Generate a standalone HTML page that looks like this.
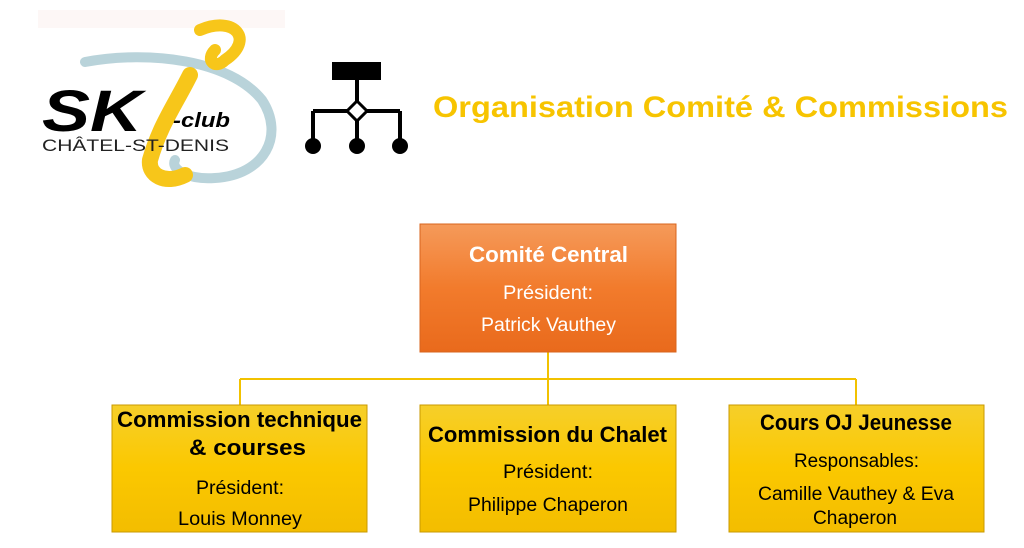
<!DOCTYPE html>
<html><head><meta charset="utf-8"><style>
html,body{margin:0;padding:0;background:#fff;width:1024px;height:548px;overflow:hidden}
svg{display:block}
text{font-family:"Liberation Sans",sans-serif}
</style></head><body>
<svg width="1024" height="548" viewBox="0 0 1024 548" xmlns="http://www.w3.org/2000/svg">
<defs>
<linearGradient id="og" x1="0" y1="0" x2="0" y2="1"><stop offset="0" stop-color="#f59a5a"/><stop offset="0.5" stop-color="#f27b2c"/><stop offset="1" stop-color="#e96a1c"/></linearGradient>
<linearGradient id="yg" x1="0" y1="0" x2="0" y2="1"><stop offset="0" stop-color="#f6cf2a"/><stop offset="0.5" stop-color="#fbc800"/><stop offset="1" stop-color="#f3bd00"/></linearGradient>
</defs>
<!-- logo -->
<rect x="38" y="10" width="247" height="18" fill="#fdf7f6"/>
<path d="M85 62 C150 50 230 60 262 100 C285 135 265 175 215 178 C190 180 170 170 175 160" fill="none" stroke="#b9d3da" stroke-width="10" stroke-linecap="round"/>
<path d="M200 30 C235 15 255 40 225 60 C215 70 205 60 215 50" fill="none" stroke="#f7c61a" stroke-width="12" stroke-linecap="round"/>
<path d="M190 75 C175 105 160 125 150 160 C148 175 165 185 185 175" fill="none" stroke="#f7c61a" stroke-width="16" stroke-linecap="round"/>
<text x="42" y="131" font-size="58" font-weight="bold" font-style="italic" fill="#000" textLength="100" lengthAdjust="spacingAndGlyphs">SK</text>
<text x="173" y="127" font-size="20" font-weight="bold" font-style="italic" fill="#000" textLength="57" lengthAdjust="spacingAndGlyphs">-club</text>
<text x="42" y="151" font-size="17" fill="#222" textLength="187" lengthAdjust="spacingAndGlyphs">CHÂTEL-ST-DENIS</text>
<!-- icon -->
<rect x="332" y="62" width="49" height="18" fill="#000"/>
<g stroke="#000" stroke-width="4" fill="none">
<line x1="357" y1="80" x2="357" y2="145"/>
<line x1="313" y1="111" x2="400" y2="111"/>
<line x1="313" y1="111" x2="313" y2="145"/>
<line x1="400" y1="111" x2="400" y2="145"/>
</g>
<polygon points="357,101 367,111 357,121 347,111" fill="#fff" stroke="#000" stroke-width="3"/>
<circle cx="313" cy="146" r="8" fill="#000"/><circle cx="357" cy="146" r="8" fill="#000"/><circle cx="400" cy="146" r="8" fill="#000"/>
<text x="433" y="117" font-size="30" font-weight="bold" fill="#f7c400" textLength="575" lengthAdjust="spacingAndGlyphs">Organisation Comité &amp; Commissions</text>
<!-- connectors -->
<g stroke="#f2c200" stroke-width="2" fill="none">
<line x1="548" y1="352" x2="548" y2="405"/>
<line x1="240" y1="379" x2="856" y2="379"/>
<line x1="240" y1="379" x2="240" y2="405"/>
<line x1="856" y1="379" x2="856" y2="405"/>
</g>
<!-- boxes -->
<rect x="420" y="224" width="256" height="128" fill="url(#og)" stroke="#d8641e" stroke-width="1"/>
<rect x="112" y="405" width="255" height="127" fill="url(#yg)" stroke="#c99a00" stroke-width="1"/>
<rect x="420" y="405" width="256" height="127" fill="url(#yg)" stroke="#c99a00" stroke-width="1"/>
<rect x="729" y="405" width="255" height="127" fill="url(#yg)" stroke="#c99a00" stroke-width="1"/>
<g fill="#fff">
<text x="469" y="262" font-size="22" font-weight="bold" textLength="159" lengthAdjust="spacingAndGlyphs">Comité Central</text>
<text x="503" y="299" font-size="19" textLength="90" lengthAdjust="spacingAndGlyphs">Président:</text>
<text x="481" y="331" font-size="19" textLength="135" lengthAdjust="spacingAndGlyphs">Patrick Vauthey</text>
</g>
<g fill="#000">
<text x="117" y="427" font-size="22" font-weight="bold" textLength="245" lengthAdjust="spacingAndGlyphs">Commission technique</text>
<text x="189" y="455" font-size="22" font-weight="bold" textLength="117" lengthAdjust="spacingAndGlyphs">&amp; courses</text>
<text x="196" y="494" font-size="19" textLength="88" lengthAdjust="spacingAndGlyphs">Président:</text>
<text x="178" y="525" font-size="19" textLength="124" lengthAdjust="spacingAndGlyphs">Louis Monney</text>
<text x="428" y="442" font-size="22" font-weight="bold" textLength="239" lengthAdjust="spacingAndGlyphs">Commission du Chalet</text>
<text x="503" y="478" font-size="19" textLength="90" lengthAdjust="spacingAndGlyphs">Président:</text>
<text x="468" y="511" font-size="19" textLength="160" lengthAdjust="spacingAndGlyphs">Philippe Chaperon</text>
<text x="760" y="430" font-size="22" font-weight="bold" textLength="192" lengthAdjust="spacingAndGlyphs">Cours OJ Jeunesse</text>
<text x="794" y="467" font-size="19" textLength="125" lengthAdjust="spacingAndGlyphs">Responsables:</text>
<text x="758" y="500" font-size="19" textLength="196" lengthAdjust="spacingAndGlyphs">Camille Vauthey &amp; Eva</text>
<text x="813" y="524" font-size="19" textLength="84" lengthAdjust="spacingAndGlyphs">Chaperon</text>
</g>
</svg>
</body></html>
